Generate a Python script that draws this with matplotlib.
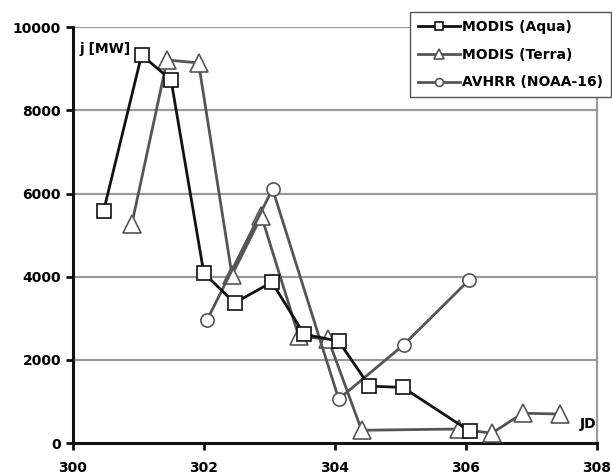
import matplotlib
matplotlib.use("Agg")
import matplotlib.pyplot as plt

aqua_x = [300.47, 301.05, 301.50, 302.00, 302.47, 303.04, 303.53, 304.06, 304.53, 305.04, 306.06]
aqua_y = [5580, 9330, 8730, 4090, 3370, 3870, 2620, 2450, 1370, 1340, 290]

terra_x = [300.90, 301.44, 301.92, 302.43, 302.88, 303.45, 303.90, 304.41, 305.90, 306.40, 306.87, 307.44]
terra_y = [5260, 9210, 9140, 4040, 5460, 2570, 2500, 310, 340, 240, 720, 700]

avhrr_x = [302.05, 303.05, 304.06, 305.05, 306.05]
avhrr_y = [2960, 6110, 1060, 2360, 3920]

xticks = [300, 302, 304, 306, 308]
yticks = [0, 2000, 4000, 6000, 8000, 10000]

plt.rcParams['font.family'] = ['DejaVu Sans']
plt.rcParams['font.weight'] = 'bold'

fig = plt.figure(figsize=(6.12, 4.76), dpi=100)
ax = fig.add_axes([0.119, 0.069, 0.856, 0.874])

for yv in yticks[1:]:
    ax.axhline(yv, color='#9a9a9a', lw=1.6, zorder=1)

gray = '#555555'
ax.plot(aqua_x, aqua_y, color='#111111', lw=2, marker='s', ms=9.5,
        mfc='white', mec='#111111', mew=1.2, label='MODIS (Aqua)', zorder=4)
ax.plot(terra_x, terra_y, color=gray, lw=2, marker='^', ms=13,
        mfc='white', mec=gray, mew=1.2, label='MODIS (Terra)', zorder=3)
ax.plot(avhrr_x, avhrr_y, color=gray, lw=2, marker='o', ms=9.5,
        mfc='white', mec=gray, mew=1.2, label='AVHRR (NOAA-16)', zorder=3)

ax.set_xlim(300, 308)
ax.set_ylim(0, 10000)
ax.set_xticks(xticks)
ax.set_yticks(yticks)
ax.tick_params(axis='both', direction='out', length=5, width=2, labelsize=10, color='#111111')
ax.tick_params(axis='x', pad=8)
for lab in ax.get_xticklabels() + ax.get_yticklabels():
    lab.set_fontweight('bold')

ax.spines['top'].set_visible(False)
ax.spines['left'].set_linewidth(2.2)
ax.spines['left'].set_color('#111111')
ax.spines['bottom'].set_linewidth(2.2)
ax.spines['bottom'].set_color('#111111')
ax.spines['right'].set_color('#9a9a9a')
ax.spines['right'].set_linewidth(1.6)

ax.text(0.012, 0.965, 'j [MW]', transform=ax.transAxes, fontsize=10,
        fontweight='bold', va='top', ha='left')
ax.text(0.999, 0.045, 'JD', transform=ax.transAxes, fontsize=10,
        fontweight='bold', va='center', ha='right')

leg = ax.legend(loc='upper right', bbox_to_anchor=(611 / 612, 1 - 12 / 476),
                bbox_transform=fig.transFigure, fontsize=10,
                frameon=True, fancybox=False, edgecolor='#555555', framealpha=1,
                handlelength=3.0, handletextpad=0.2, borderpad=0.55,
                labelspacing=1.0, markerscale=0.6, borderaxespad=0)
leg.get_frame().set_linewidth(1)
for t in leg.get_texts():
    t.set_fontweight('bold')
leg.set_zorder(10)

fig.savefig('out.png', dpi=100)
